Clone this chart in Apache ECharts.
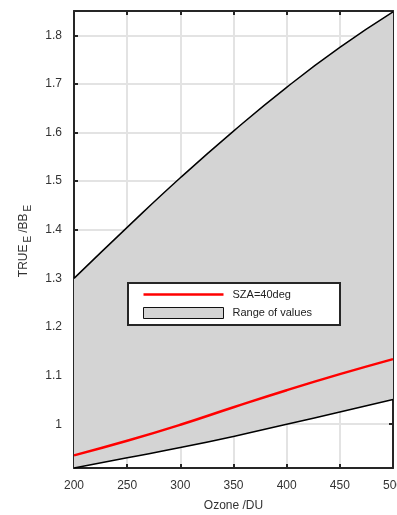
<!DOCTYPE html>
<html>
<head>
<meta charset="utf-8">
<script src="https://cdn.jsdelivr.net/npm/echarts@6/dist/echarts.min.js"></script>
<style>html,body{margin:0;padding:0;background:#fff}#c{width:397px;height:515px}</style>
</head>
<body>
<div id="c"></div>
<script>
const ozone = ['200', '250', '300', '350', '400', '450', '500'];
const upperRange = [1.300, 1.405, 1.507, 1.603, 1.693, 1.775, 1.848];
const lowerRange = [0.910, 0.931, 0.952, 0.975, 1.000, 1.025, 1.051];
const sza40 = [0.936, 0.966, 0.999, 1.035, 1.070, 1.103, 1.134];
const yTicks = [1, 1.1, 1.2, 1.3, 1.4, 1.5, 1.6, 1.7, 1.8];

const bandWidth = ozone.map((x, i) => +(upperRange[i] - lowerRange[i]).toFixed(4));

const font = 'Liberation Sans, Arial, sans-serif';
const frame = '#262626';
const chart = echarts.init(document.getElementById('c'), null, {renderer: 'canvas'});

const xCommon = {
  type: 'category', data: ozone, boundaryGap: false,
  axisLine: {show: true, onZero: false, lineStyle: {color: frame, width: 2}},
  axisTick: {show: true, inside: true, length: 4, lineStyle: {color: frame, width: 2}},
};
const yCommon = {
  type: 'value', min: 0.91, max: 1.85, splitNumber: 10,
  axisLine: {show: true, onZero: false, lineStyle: {color: frame, width: 2}},
  axisTick: {show: true, inside: true, length: 4, lineStyle: {color: frame, width: 2}},
};

chart.setOption({
  animation: false,
  backgroundColor: '#fff',
  grid: {left: 74, right: 4, top: 11, bottom: 47, containLabel: false, outerBoundsMode: 'none'},
  xAxis: [
    Object.assign({}, xCommon, {
      position: 'bottom',
      name: 'Ozone /DU', nameLocation: 'middle', nameGap: 32,
      nameTextStyle: {fontFamily: font, fontSize: 12, color: '#333'},
      axisLabel: {fontFamily: font, fontSize: 12, color: '#333', margin: 12, showMaxLabel: true},
      splitLine: {show: true, lineStyle: {color: '#e3e3e3', width: 2}}
    }),
    Object.assign({}, xCommon, {
      position: 'top', axisLabel: {show: false}, splitLine: {show: false}
    })
  ],
  yAxis: [
    Object.assign({}, yCommon, {
      position: 'left',
      name: '{a|TRUE}{s|E}{a|/BB}{s|E}', nameLocation: 'middle', nameGap: 41, nameRotate: 90,
      nameTextStyle: {
        fontFamily: font, color: '#333',
        rich: {
          a: {fontFamily: font, fontSize: 12, color: '#333', lineHeight: 18},
          s: {fontFamily: font, fontSize: 10, color: '#333', lineHeight: 18, padding: [9, 3, 0, 2]}
        }
      },
      axisLabel: {fontFamily: font, fontSize: 12, color: '#333', margin: 12,
        showMinLabel: false, showMaxLabel: false,
        formatter: v => {
          const t = yTicks.find(y => Math.abs(y - v) < 1e-6);
          return t === undefined ? '' : String(t);
        }},
      splitLine: {show: true, lineStyle: {color: '#e3e3e3', width: 2}}
    }),
    Object.assign({}, yCommon, {
      position: 'right', axisLabel: {show: false}, splitLine: {show: false}
    })
  ],
  legend: {
    left: 128, top: 283,
    orient: 'vertical',
    backgroundColor: '#fff', borderColor: frame, borderWidth: 2, borderRadius: 0,
    padding: [6, 28, 6, 15],
    itemGap: 7, itemWidth: 80, itemHeight: 11, symbolKeepAspect: true,
    textStyle: {fontFamily: font, fontSize: 11, color: '#222', padding: [2, 0, 0, 4]},
    data: [
      {name: 'SZA=40deg', icon: 'path://M0,0H80V2.5H0Z', itemStyle: {color: '#ff0000'}},
      {name: 'Range of values', icon: 'rect',
        itemStyle: {color: '#d4d4d4', borderColor: '#111', borderWidth: 1}}
    ]
  },
  series: [
    {
      name: 'base', type: 'line', stack: 'band', data: lowerRange,
      symbol: 'none', smooth: 0.5, lineStyle: {opacity: 0}, silent: true, z: 1
    },
    {
      name: 'Range of values', type: 'line', stack: 'band', data: bandWidth,
      symbol: 'none', smooth: 0.5, lineStyle: {opacity: 0},
      itemStyle: {color: '#d4d4d4'},
      areaStyle: {color: '#d4d4d4', opacity: 1}, silent: true, z: 2
    },
    {
      name: 'upper', type: 'line', data: upperRange, symbol: 'none', smooth: 0.5,
      lineStyle: {color: '#000', width: 1.5}, z: 3
    },
    {
      name: 'lower', type: 'line', data: lowerRange, symbol: 'none', smooth: 0.5,
      lineStyle: {color: '#000', width: 1.5}, z: 3
    },
    {
      name: 'SZA=40deg', type: 'line', data: sza40, symbol: 'none', smooth: 0.5,
      itemStyle: {color: '#ff0000'},
      lineStyle: {color: '#ff0000', width: 2.5}, z: 4
    }
  ]
});
</script>
</body>
</html>
